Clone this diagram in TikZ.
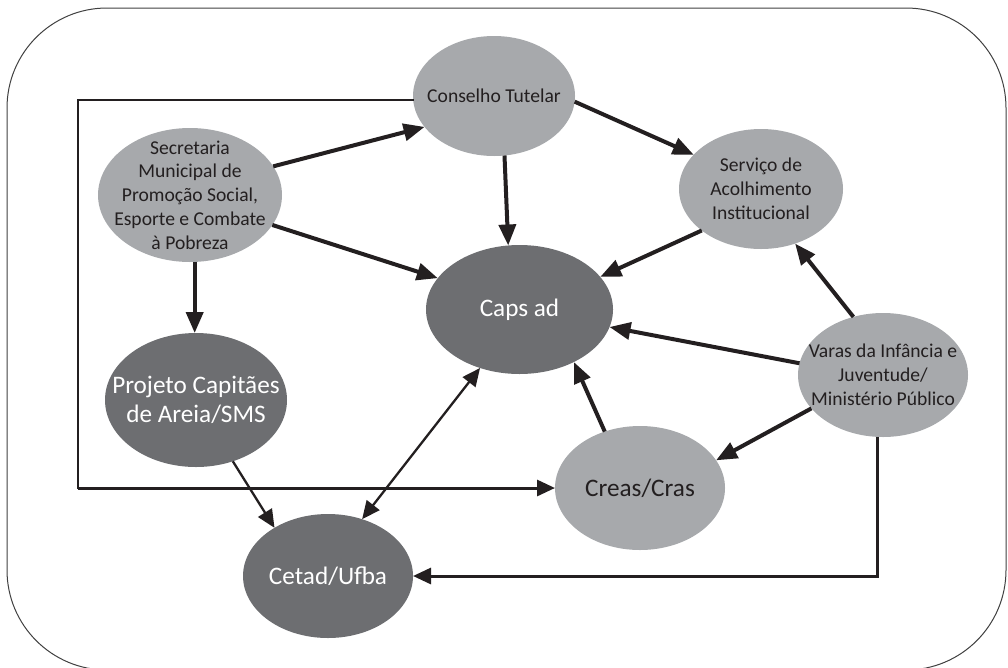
\documentclass[tikz,border=0pt]{standalone}
\usepackage{fontspec}
\setmainfont{Carlito}
\usetikzlibrary{shapes.geometric,arrows.meta}
\definecolor{cinzaclaro}{HTML}{A7A9AC}
\definecolor{cinzaescuro}{HTML}{6D6E71}
\definecolor{tinta}{HTML}{231F20}
\begin{document}
\begin{tikzpicture}[x=1pt,y=-1pt,>={Triangle[length=21pt,width=17pt]},
    ponta/.tip={Triangle[length=18pt,width=16pt]},
    circ/.style={ellipse,inner sep=0pt,outer sep=0pt},
    peq/.style={text=tinta,align=center,font=\fontsize{19.6}{23.8}\selectfont},
    grd/.style={text=white,align=center,font=\fontsize{25.2}{29}\selectfont},
    grossa/.style={draw=tinta,line width=4pt},
    fina/.style={draw=tinta,line width=2.3pt}]
\useasboundingbox (0,0) rectangle (1008,667);
\draw[line width=1pt,black!75,rounded corners=100pt] (7,8) rectangle (1006,670);

\node[circ,fill=cinzaclaro,minimum width=162pt,minimum height=120pt,label={[peq]center:Conselho Tutelar}] (con) at (494,96) {};
\node[circ,fill=cinzaclaro,minimum width=184pt,minimum height=134pt,label={[peq]center:{Secretaria\\Municipal de\\Promoção Social,\\Esporte e Combate\\à Pobreza}}] (sec) at (190,195) {};
\node[circ,fill=cinzaclaro,minimum width=164pt,minimum height=120pt,label={[peq]center:{Serviço de\\Acolhimento\\Institucional}}] (serv) at (761,189) {};
\node[circ,fill=cinzaescuro,minimum width=187pt,minimum height=129pt,label={[grd]center:Caps ad}] (caps) at (519.5,309.5) {};
\node[circ,fill=cinzaclaro,minimum width=170pt,minimum height=124pt,label={[peq]center:{Varas da Infância e\\Juventude/\\Ministério Público}}] (var) at (883,375) {};
\node[circ,fill=cinzaescuro,minimum width=182pt,minimum height=134pt,label={[grd]center:{Projeto Capitães\\de Areia/SMS}}] (proj) at (196,400) {};
\node[circ,fill=cinzaclaro,minimum width=170pt,minimum height=124pt,label={[grd,text=tinta]center:Creas/Cras}] (creas) at (640,488) {};
\node[circ,fill=cinzaescuro,minimum width=170pt,minimum height=124pt,label={[grd]center:Cetad/Ufba}] (cetad) at (328,576) {};

\coordinate (canto) at (78,488);

\foreach \de/\para in {sec.19/con.204, sec.340/caps.159, con.280/caps.100, con.356/serv.153, serv.215/caps.22, var.117/serv.302, var.172/caps.349, var.205/creas.20, creas.122/caps.316}
{
    \draw[grossa,->] (\de)--(\para);
}
\draw[grossa,->] (sec.274)--(sec.274 |- proj.north);

\draw[fina,-ponta] (proj.301)--(cetad.138);
\draw[fina,ponta-ponta] (cetad.59)--(caps.236);
\draw[fina,line width=2pt,line cap=rect] (con.183) -| (canto);
\draw[fina,line width=3pt,-ponta] (canto)--(creas.west);
\draw[fina,line width=3pt,-ponta] (var.265) |- (cetad.east);
\end{tikzpicture}
\end{document}
